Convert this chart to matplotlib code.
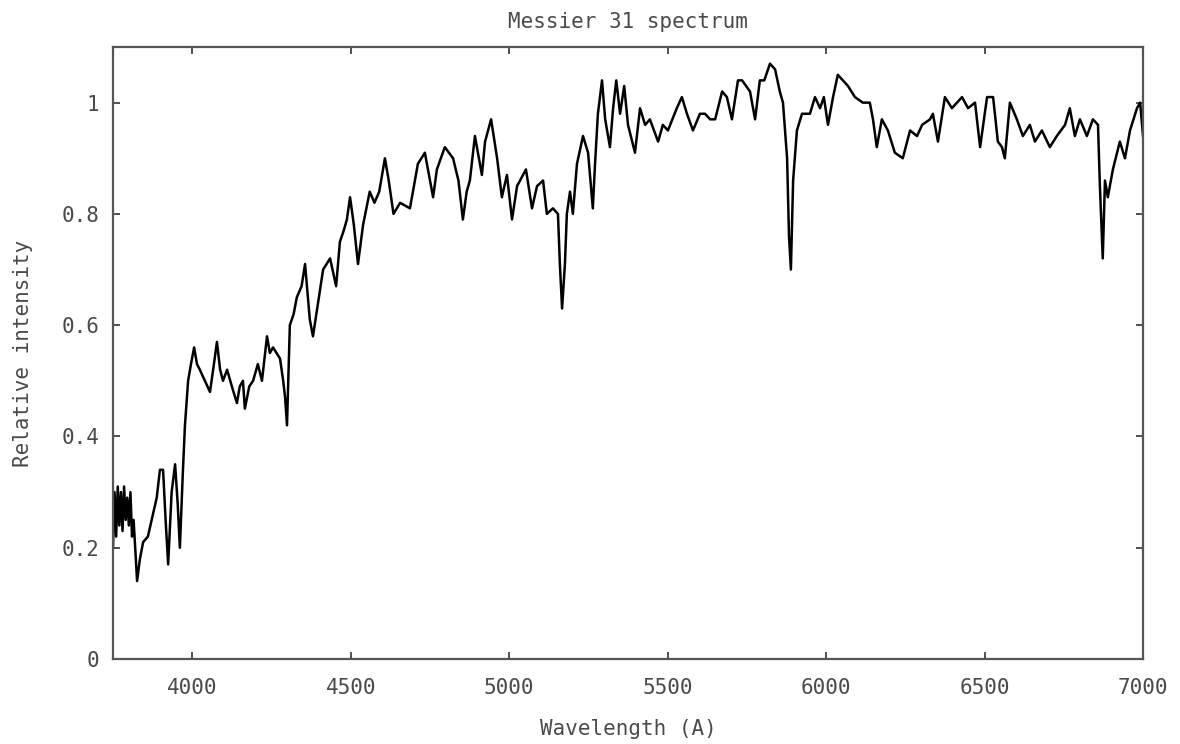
import matplotlib

matplotlib.use("Agg")
import matplotlib.pyplot as plt

# wavelength (A) and relative intensity
wavelength = [
    3750, 3755, 3760, 3765, 3770, 3775, 3780, 3785, 3790, 3795, 3800, 3805, 3810, 3815,
    3826, 3835, 3845, 3860, 3876, 3888, 3898, 3908, 3916, 3924, 3935, 3946, 3954, 3961,
    3970, 3977, 3987, 3996, 4006, 4015, 4024, 4040, 4056, 4066, 4078, 4088, 4097, 4110,
    4125, 4141, 4150, 4160, 4166, 4180, 4192, 4207, 4220, 4236, 4245, 4255, 4277, 4287,
    4293, 4299, 4308, 4320, 4330, 4345, 4356, 4371, 4381, 4397, 4413, 4435, 4454, 4466,
    4478, 4488, 4498, 4510, 4523, 4539, 4560, 4575, 4590, 4608, 4620, 4635, 4656, 4687,
    4712, 4734, 4760, 4772, 4797, 4823, 4840, 4854, 4866, 4876, 4892, 4914, 4924, 4943,
    4962, 4977, 4993, 5009, 5025, 5053, 5072, 5088, 5107, 5119, 5138, 5154, 5160, 5167,
    5176, 5182, 5192, 5201, 5214, 5233, 5249, 5264, 5271, 5280, 5293, 5303, 5318, 5328,
    5338, 5350, 5363, 5375, 5397, 5413, 5429, 5444, 5470, 5485, 5501, 5529, 5545, 5561,
    5580, 5602, 5618, 5634, 5650, 5672, 5687, 5703, 5722, 5735, 5760, 5776, 5791, 5805,
    5823, 5839, 5854, 5864, 5877, 5883, 5889, 5896, 5908, 5924, 5949, 5965, 5981, 5993,
    6006, 6022, 6037, 6053, 6069, 6091, 6116, 6138, 6148, 6160, 6176, 6195, 6217, 6242,
    6265, 6287, 6303, 6328, 6337, 6353, 6375, 6397, 6413, 6429, 6448, 6470, 6486, 6508,
    6527, 6542, 6555, 6564, 6580, 6602, 6621, 6643, 6659, 6681, 6706, 6728, 6754, 6769,
    6785, 6801, 6823, 6842, 6858, 6864, 6873, 6880, 6889, 6905, 6927, 6943, 6959, 6981,
    6991, 7000,
]
intensity = [
    0.20, 0.30, 0.22, 0.31, 0.24, 0.30, 0.23, 0.31, 0.25, 0.29, 0.24, 0.30, 0.22, 0.25,
    0.14, 0.18, 0.21, 0.22, 0.26, 0.29, 0.34, 0.34, 0.25, 0.17, 0.30, 0.35, 0.28, 0.20,
    0.33, 0.42, 0.50, 0.53, 0.56, 0.53, 0.52, 0.50, 0.48, 0.52, 0.57, 0.52, 0.50, 0.52,
    0.49, 0.46, 0.49, 0.50, 0.45, 0.49, 0.50, 0.53, 0.50, 0.58, 0.55, 0.56, 0.54, 0.50,
    0.47, 0.42, 0.60, 0.62, 0.65, 0.67, 0.71, 0.61, 0.58, 0.64, 0.70, 0.72, 0.67, 0.75,
    0.77, 0.79, 0.83, 0.78, 0.71, 0.78, 0.84, 0.82, 0.84, 0.90, 0.86, 0.80, 0.82, 0.81,
    0.89, 0.91, 0.83, 0.88, 0.92, 0.90, 0.86, 0.79, 0.84, 0.86, 0.94, 0.87, 0.93, 0.97,
    0.90, 0.83, 0.87, 0.79, 0.85, 0.88, 0.81, 0.85, 0.86, 0.80, 0.81, 0.80, 0.71, 0.63,
    0.71, 0.80, 0.84, 0.80, 0.89, 0.94, 0.91, 0.81, 0.89, 0.98, 1.04, 0.97, 0.92, 0.99,
    1.04, 0.98, 1.03, 0.96, 0.91, 0.99, 0.96, 0.97, 0.93, 0.96, 0.95, 0.99, 1.01, 0.98,
    0.95, 0.98, 0.98, 0.97, 0.97, 1.02, 1.01, 0.97, 1.04, 1.04, 1.02, 0.97, 1.04, 1.04,
    1.07, 1.06, 1.02, 1.00, 0.90, 0.76, 0.70, 0.86, 0.95, 0.98, 0.98, 1.01, 0.99, 1.01,
    0.96, 1.01, 1.05, 1.04, 1.03, 1.01, 1.00, 1.00, 0.97, 0.92, 0.97, 0.95, 0.91, 0.90,
    0.95, 0.94, 0.96, 0.97, 0.98, 0.93, 1.01, 0.99, 1.00, 1.01, 0.99, 1.00, 0.92, 1.01,
    1.01, 0.93, 0.92, 0.90, 1.00, 0.97, 0.94, 0.96, 0.93, 0.95, 0.92, 0.94, 0.96, 0.99,
    0.94, 0.97, 0.94, 0.97, 0.96, 0.85, 0.72, 0.86, 0.83, 0.88, 0.93, 0.90, 0.95, 0.99,
    1.00, 0.94,
]

x_ticks = [4000, 4500, 5000, 5500, 6000, 6500, 7000]
y_ticks = [0, 0.2, 0.4, 0.6, 0.8, 1]
y_tick_labels = ["0", "0.2", "0.4", "0.6", "0.8", "1"]

_TEXT = "#4a4a4a"
_FONT = "DejaVu Sans Mono"

plt.rcParams.update({"font.family": _FONT, "font.size": 15})

fig = plt.figure(figsize=(11.8, 7.44), dpi=100)
ax = fig.add_axes([113 / 1180, 1 - 659 / 744, 1030 / 1180, 612 / 744])

ax.plot(wavelength, intensity, color="black", lw=1.8)

ax.set_xlim(3750, 7000)
ax.set_ylim(0, 1.1)
ax.set_xticks(x_ticks)
ax.set_yticks(y_ticks)
ax.set_yticklabels(y_tick_labels)
ax.tick_params(direction="in", length=5, width=1.2, color="#333333",
               top=True, right=True, labelcolor=_TEXT, labelsize=15)
ax.tick_params(axis="x", pad=14)
ax.tick_params(axis="y", pad=10)
for s in ax.spines.values():
    s.set_color("#555555")
    s.set_linewidth(1.6)

ax.set_title("Messier 31 spectrum", color=_TEXT, fontsize=15, pad=14)
ax.set_xlabel("Wavelength (A)", color=_TEXT, fontsize=15, labelpad=15)
ax.set_ylabel("Relative intensity", color=_TEXT, fontsize=15, labelpad=20)

fig.savefig("out.png", dpi=100)
